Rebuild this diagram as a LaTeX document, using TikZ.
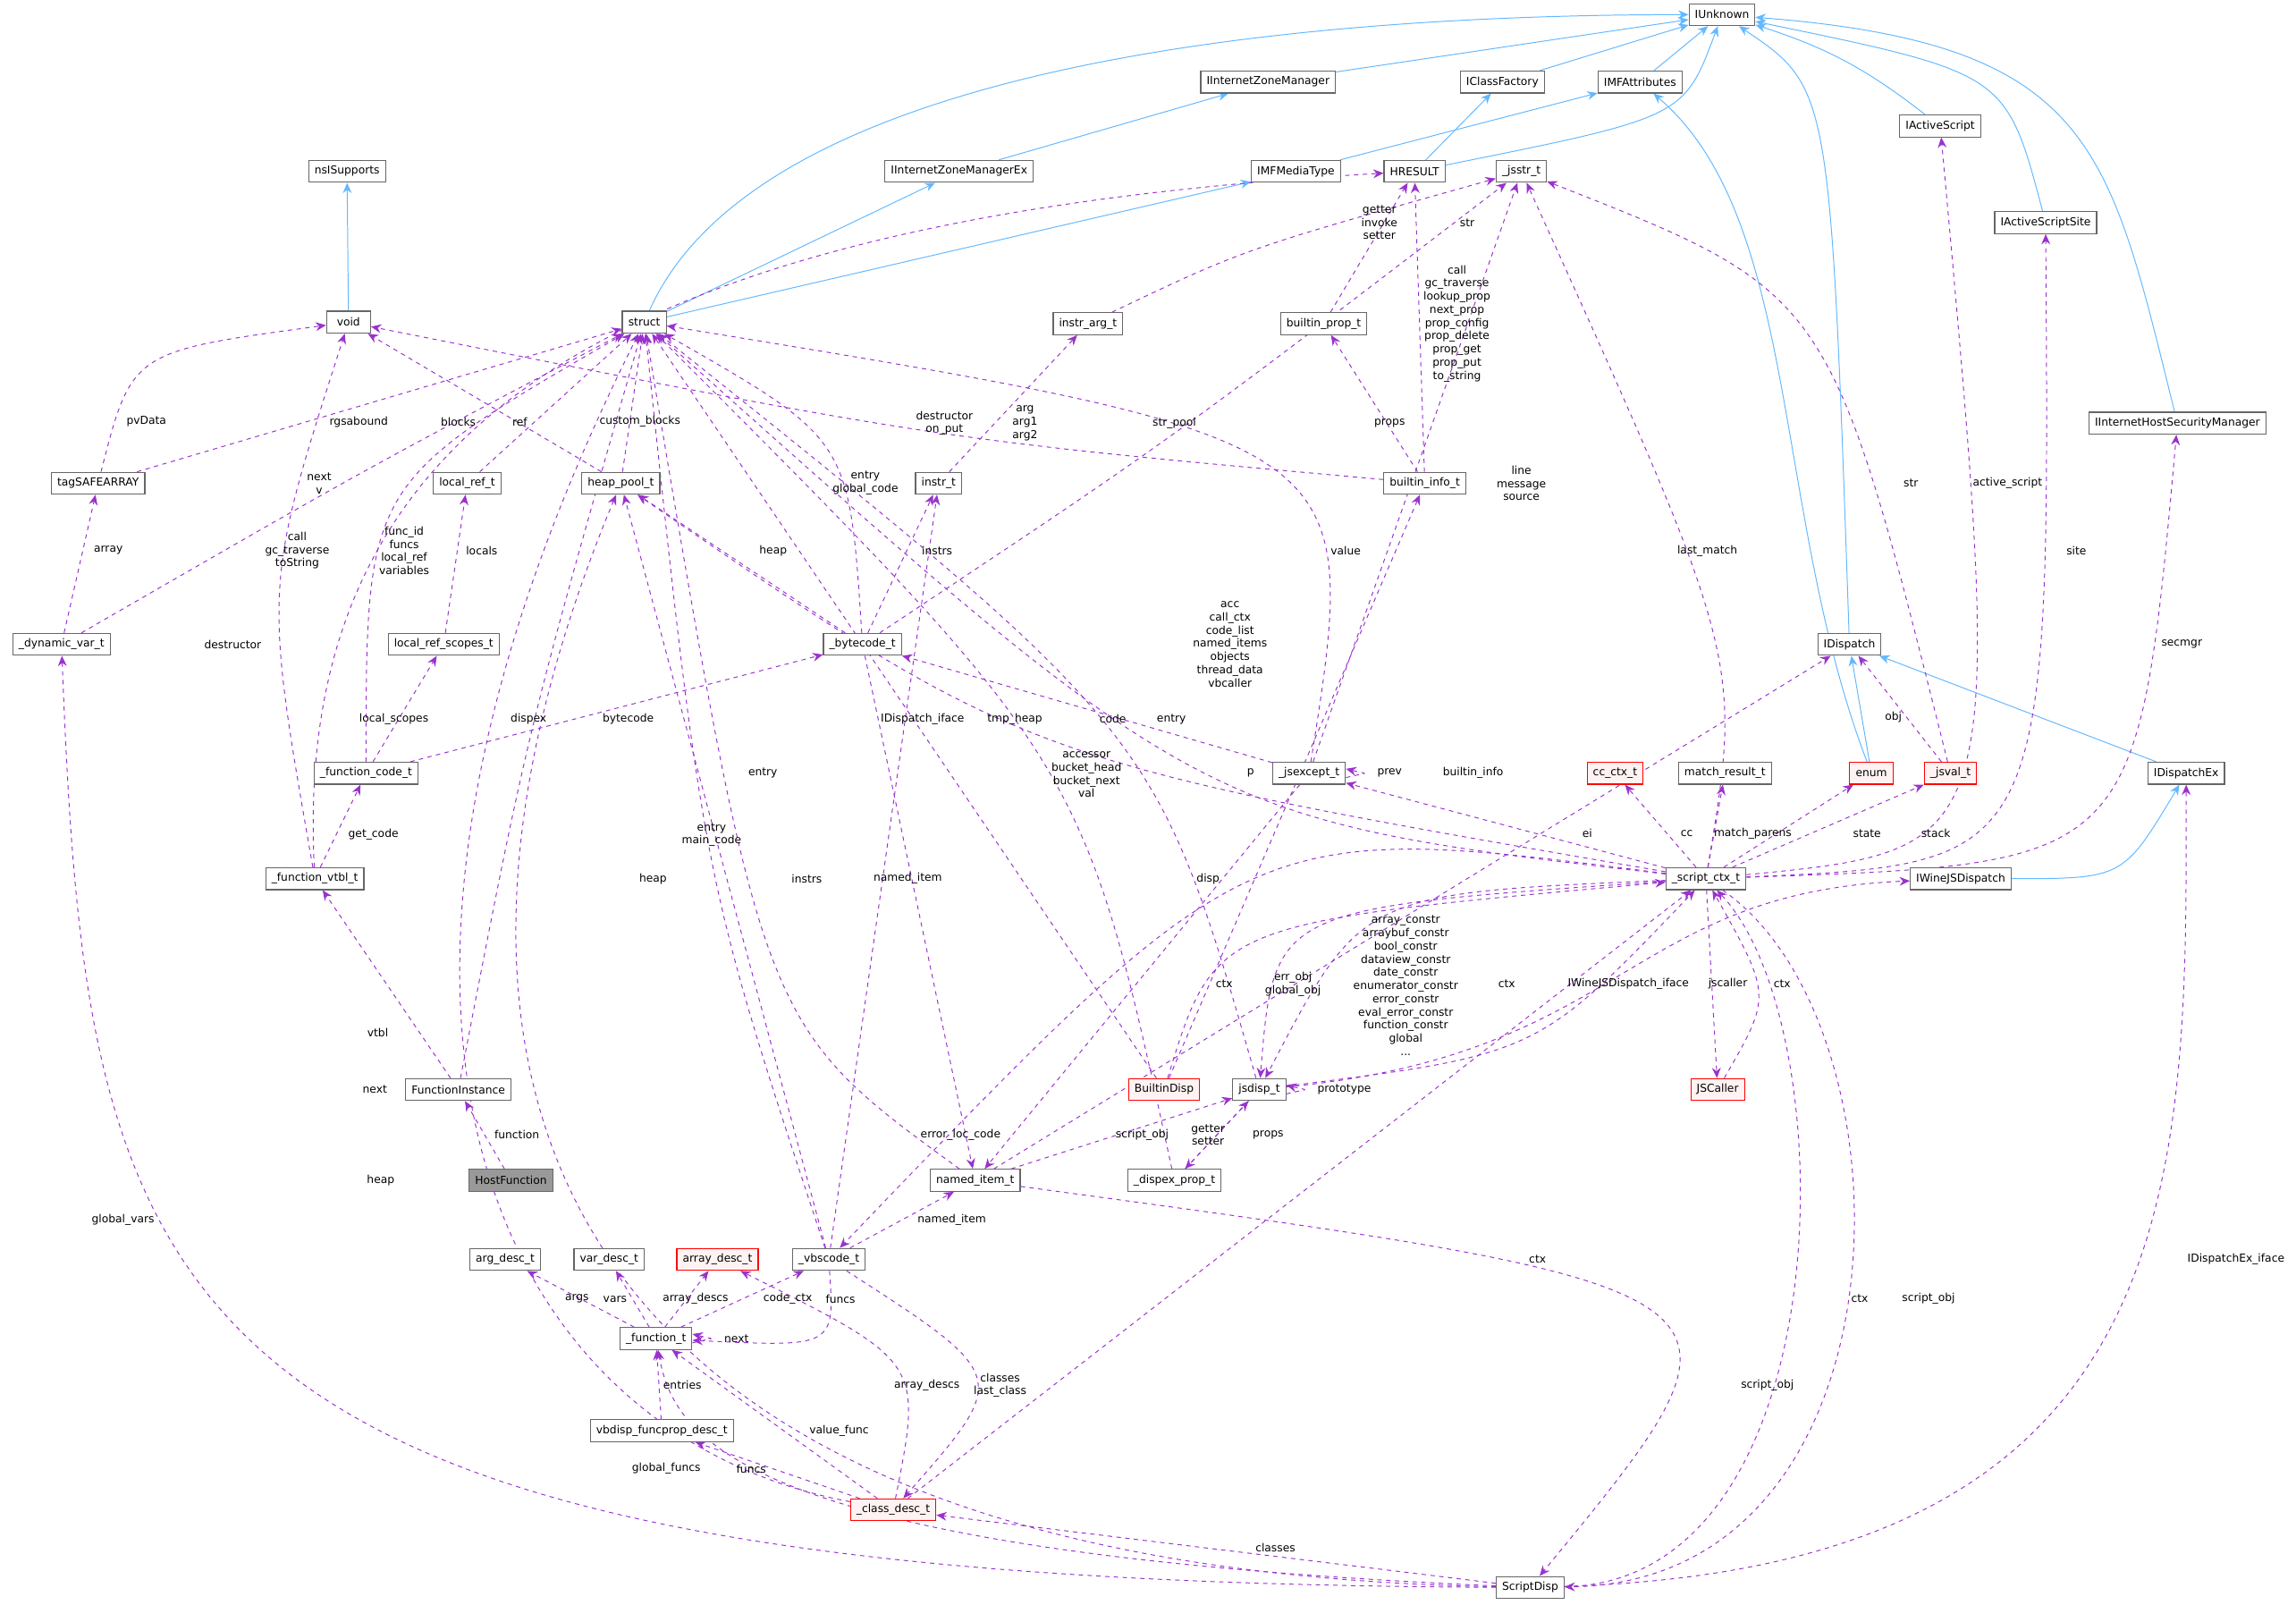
\documentclass[tikz,border=0pt]{standalone}
\usepackage{fontspec}
\setmainfont{DejaVu Sans}
\usetikzlibrary{arrows.meta}
\definecolor{depc}{HTML}{9A32CD}
\definecolor{inhc}{HTML}{63B8FF}
\pgfdeclarelayer{bg}
\pgfsetlayers{bg,main}
\begin{document}
\begin{tikzpicture}[x=1pt,y=-1pt,
  every node/.style={font=\fontsize{7.5}{9}\selectfont},
  box/.style={draw=black!60,line width=0.7pt,fill=white,minimum height=15pt,inner xsep=4pt,inner ysep=1pt,minimum width=30pt},
  redbox/.style={box,draw=red,fill=red!5},
  graybox/.style={box,fill=black!40},
  lbl/.style={align=center,inner sep=0pt},
  dep/.style={draw=depc,dashed,line width=0.6pt,-{Stealth[length=7pt,width=6pt]}},
  inh/.style={draw=inhc,line width=0.6pt,-{Stealth[length=7pt,width=6pt]}}]
\useasboundingbox (0,0) rectangle (1568,1096);
% nodes
\node[box] (iunk) at (1176,10) {IUnknown};
\node[box] (iizm) at (866,56) {IInternetZoneManager};
\node[box] (icf) at (1026,56) {IClassFactory};
\node[box] (imfa) at (1120,56) {IMFAttributes};
\node[box] (ias) at (1325,86) {IActiveScript};
\node[box] (nsis) at (237,117) {nsISupports};
\node[box] (iizmex) at (655,117) {IInternetZoneManagerEx};
\node[box] (imfmt) at (885,117) {IMFMediaType};
\node[box] (hres) at (966,117) {HRESULT};
\node[box] (jsstr) at (1039,117) {\_jsstr\_t};
\node[box] (iass) at (1397,152) {IActiveScriptSite};
\node[box] (void) at (238,220) {void};
\node[box] (struct) at (440,220) {struct};
\node[box] (instrarg) at (743,221) {instr\_arg\_t};
\node[box] (bprop) at (904,221) {builtin\_prop\_t};
\node[box] (ihsm) at (1487,289) {IInternetHostSecurityManager};
\node[box] (tagsa) at (67,330) {tagSAFEARRAY};
\node[box] (localref) at (319,330) {local\_ref\_t};
\node[box] (heap) at (424,330) {heap\_pool\_t};
\node[box] (instr) at (641,330) {instr\_t};
\node[box] (binfo) at (973,330) {builtin\_info\_t};
\node[box] (dynvar) at (42,440) {\_dynamic\_var\_t};
\node[box] (lrs) at (303,440) {local\_ref\_scopes\_t};
\node[box] (bytecode) at (589,440) {\_bytecode\_t};
\node[box] (idisp) at (1263,440) {IDispatch};
\node[box] (funccode) at (250,528) {\_function\_code\_t};
\node[box] (jsexc) at (894,528) {\_jsexcept\_t};
\node[redbox] (cc) at (1103,528) {cc\_ctx\_t};
\node[box] (match) at (1178,528) {match\_result\_t};
\node[redbox] (enum) at (1278,528) {enum};
\node[redbox] (jsval) at (1332,528) {\_jsval\_t};
\node[box] (idispex) at (1493,528) {IDispatchEx};
\node[box] (fvtbl) at (215,600) {\_function\_vtbl\_t};
\node[box] (scx) at (1165,600) {\_script\_ctx\_t};
\node[box] (iwjsd) at (1339,600) {IWineJSDispatch};
\node[box] (fi) at (313,744) {FunctionInstance};
\node[redbox] (bdisp) at (795,744) {BuiltinDisp};
\node[box] (jsdisp) at (860,744) {jsdisp\_t};
\node[redbox] (jscaller) at (1173,744) {JSCaller};
\node[graybox] (hf) at (349,806) {HostFunction};
\node[box] (named) at (666,806) {named\_item\_t};
\node[box] (dispex) at (802,806) {\_dispex\_prop\_t};
\node[box] (argdesc) at (345,860) {arg\_desc\_t};
\node[box] (vardesc) at (416,860) {var\_desc\_t};
\node[redbox] (arrdesc) at (490,860) {array\_desc\_t};
\node[box] (vbscode) at (566,860) {\_vbscode\_t};
\node[box] (func) at (448,914) {\_function\_t};
\node[box] (vbdfp) at (452,977) {vbdisp\_funcprop\_desc\_t};
\node[redbox] (classdesc) at (610,1031) {\_class\_desc\_t};
\node[box] (sdisp) at (1045,1084) {ScriptDisp};
% labels
\node[lbl] (l1) at (100,288) {pvData};
\node[lbl] (l2) at (245,288) {rgsabound};
\node[lbl] (l3) at (74,376) {array};
\node[lbl] (l4) at (218,330) {next\\v};
\node[lbl] (l5) at (313,288) {blocks};
\node[lbl] (l6) at (437,288) {custom\_blocks};
\node[lbl] (l7) at (355,288) {ref};
\node[lbl] (l8) at (276,376) {func\_id\\funcs\\local\_ref\\variables};
\node[lbl] (l9) at (269,491) {local\_scopes};
\node[lbl] (l10) at (429,491) {bytecode};
\node[lbl] (l11) at (329,376) {locals};
\node[lbl] (l12) at (159,440) {destructor};
\node[lbl] (l13) at (203,376) {call\\gc\_traverse\\toString};
\node[lbl] (l14) at (255,570) {get\_code};
\node[lbl] (l15) at (258,705) {vtbl};
\node[lbl] (l16) at (361,491) {dispex};
\node[lbl] (l17) at (353,775) {function};
\node[lbl] (l18) at (528,376) {heap};
\node[lbl] (l19) at (640,376) {instrs};
\node[lbl] (l20) at (591,330) {entry\\global\_code};
\node[lbl] (l21) at (802,289) {str\_pool};
\node[lbl] (l22) at (620,600) {named\_item};
\node[lbl] (l23) at (700,289) {arg\\arg1\\arg2};
\node[lbl] (l24) at (1002,152) {str};
\node[lbl] (l25) at (645,289) {destructor\\on\_put};
\node[lbl] (l26) at (949,289) {props};
\node[lbl] (l27) at (995,221) {call\\gc\_traverse\\lookup\_prop\\next\_prop\\prop\_config\\prop\_delete\\prop\_get\\prop\_put\\to\_string};
\node[lbl] (l28) at (942,152) {getter\\invoke\\setter};
\node[lbl] (l29) at (1039,330) {line\\message\\source};
\node[lbl] (l30) at (919,376) {value};
\node[lbl] (l31) at (760,491) {code};
\node[lbl] (l32) at (949,528) {prev};
\node[lbl] (l33) at (1084,569) {ei};
\node[lbl] (l34) at (1152,569) {cc};
\node[lbl] (l35) at (1197,569) {match\_parens};
\node[lbl] (l36) at (1275,569) {state};
\node[lbl] (l37) at (1322,569) {stack};
\node[lbl] (l38) at (1166,376) {last\_match};
\node[lbl] (l39) at (1371,330) {active\_script};
\node[lbl] (l40) at (1418,376) {site};
\node[lbl] (l41) at (1490,440) {secmgr};
\node[lbl] (l42) at (1293,490) {obj};
\node[lbl] (l43) at (1305,330) {str};
\node[lbl] (l44) at (840,440) {acc\\call\_ctx\\code\_list\\named\_items\\objects\\thread\_data\\vbcaller};
\node[lbl] (l45) at (693,491) {tmp\_heap};
\node[lbl] (l46) at (960,673) {array\_constr\\arraybuf\_constr\\bool\_constr\\dataview\_constr\\date\_constr\\enumerator\_constr\\error\_constr\\eval\_error\_constr\\function\_constr\\global\\...};
\node[lbl] (l47) at (883,672) {err\_obj\\global\_obj};
\node[lbl] (l48) at (836,672) {ctx};
\node[lbl] (l49) at (1029,672) {ctx};
\node[lbl] (l50) at (1112,672) {IWineJSDispatch\_iface};
\node[lbl] (l51) at (1180,672) {jscaller};
\node[lbl] (l52) at (1217,672) {ctx};
\node[lbl] (l53) at (918,744) {prototype};
\node[lbl] (l54) at (780,775) {script\_obj};
\node[lbl] (l55) at (825,775) {getter\\setter};
\node[lbl] (l56) at (866,775) {props};
\node[lbl] (l57) at (1207,946) {script\_obj};
\node[lbl] (l58) at (825,600) {disp};
\node[lbl] (l59) at (521,528) {entry};
\node[lbl] (l60) at (1006,528) {builtin\_info};
\node[lbl] (l61) at (630,491) {IDispatch\_iface};
\node[lbl] (l62) at (800,491) {entry};
\node[lbl] (l63) at (742,529) {accessor\\bucket\_head\\bucket\_next\\val};
\node[lbl] (l64) at (854,528) {p};
\node[lbl] (l65) at (656,775) {error\_loc\_code};
\node[lbl] (l66) at (446,600) {heap};
\node[lbl] (l67) at (551,600) {instrs};
\node[lbl] (l68) at (486,570) {entry\\main\_code};
\node[lbl] (l69) at (650,833) {named\_item};
\node[lbl] (l70) at (683,946) {classes\\last\_class};
\node[lbl] (l71) at (574,887) {funcs};
\node[lbl] (l72) at (394,887) {args};
\node[lbl] (l73) at (420,887) {vars};
\node[lbl] (l74) at (475,887) {array\_descs};
\node[lbl] (l75) at (538,887) {code\_ctx};
\node[lbl] (l76) at (503,914) {next};
\node[lbl] (l77) at (466,946) {entries};
\node[lbl] (l78) at (573,977) {value\_func};
\node[lbl] (l79) at (513,1003) {funcs};
\node[lbl] (l80) at (633,946) {array\_descs};
\node[lbl] (l81) at (1050,860) {ctx};
\node[lbl] (l82) at (256,744) {next};
\node[lbl] (l83) at (871,1057) {classes};
\node[lbl] (l84) at (455,1003) {global\_funcs};
\node[lbl] (l85) at (84,833) {global\_vars};
\node[lbl] (l86) at (260,806) {heap};
\node[lbl] (l87) at (1270,887) {ctx};
\node[lbl] (l88) at (1317,887) {script\_obj};
\node[lbl] (l89) at (1527,860) {IDispatchEx\_iface};
\begin{pgfonlayer}{bg}
% inheritance
\draw[inh] (iizm) -- (iunk);
\draw[inh] (icf) -- (iunk);
\draw[inh] (imfa) -- (iunk);
\draw[inh] (ias) to[bend right=10] (iunk);
\draw[inh] (hres) .. controls (1150,80) .. (iunk);
\draw[inh] (idisp) .. controls (1250,60) .. (iunk);
\draw[inh] (iass) .. controls (1370,50) .. (iunk);
\draw[inh] (ihsm) .. controls (1440,100) and (1430,30) .. (iunk);
\draw[inh] (struct) .. controls (520,40) and (900,10) .. (iunk);
\draw[inh] (iizmex) -- (iizm);
\draw[inh] (struct) -- (iizmex);
\draw[inh] (hres) -- (icf);
\draw[inh] (imfmt) -- (imfa);
\draw[inh] (struct) -- (imfmt);
\draw[inh] (void) -- (nsis);
\draw[inh] (enum) .. controls (1210,350) and (1230,150) .. (imfa);
\draw[inh] (enum) -- (idisp);
\draw[inh] (idispex) -- (idisp);
\draw[inh] (iwjsd) .. controls (1450,600) .. (idispex);
% dependencies
\draw[dep] (tagsa) .. controls (90,240) .. (void);
\draw[dep] (tagsa) -- (struct);
\draw[dep] (dynvar) -- (tagsa);
\draw[dep] (dynvar) .. controls (250,320) .. (struct);
\draw[dep] (heap) -- (void);
\draw[dep] (heap) -- (struct);
\draw[dep] (localref) -- (struct);
\draw[dep] (funccode) .. controls (250,330) .. (struct);
\draw[dep] (funccode) -- (lrs);
\draw[dep] (funccode) -- (bytecode);
\draw[dep] (lrs) -- (localref);
\draw[dep] (fvtbl) .. controls (180,400) .. (void);
\draw[dep] (fvtbl) .. controls (200,300) and (400,150) .. (hres);
\draw[dep] (fvtbl) -- (funccode);
\draw[dep] (fi) -- (fvtbl);
\draw[dep] (fi) .. controls (360,500) .. (struct);
\draw[dep] (hf) -- (fi);
\draw[dep] (bytecode) -- (heap);
\draw[dep] (bytecode) -- (instr);
\draw[dep] (bytecode) .. controls (580,300) .. (struct);
\draw[dep] (bytecode) .. controls (800,300) .. (jsstr);
\draw[dep] (bytecode) -- (named);
\draw[dep] (instr) -- (instrarg);
\draw[dep] (instrarg) .. controls (850,170) .. (jsstr);
\draw[dep] (binfo) .. controls (640,300) .. (void);
\draw[dep] (binfo) -- (bprop);
\draw[dep] (binfo) -- (hres);
\draw[dep] (bprop) -- (hres);
\draw[dep] (jsexc) -- (jsstr);
\draw[dep] (jsexc) .. controls (930,300) .. (struct);
\draw[dep] (jsexc) -- (bytecode);
\draw[dep] ([yshift=-3pt]jsexc.east) .. controls +(16,-4) and +(16,4) .. ([yshift=3pt]jsexc.east);
\draw[dep] (scx) -- (jsexc);
\draw[dep] (scx) -- (cc);
\draw[dep] (scx) -- (match);
\draw[dep] (scx) -- (enum);
\draw[dep] (scx) -- (jsval);
\draw[dep] (scx) .. controls (1190,450) .. (jsstr);
\draw[dep] (scx) .. controls (1370,580) .. (ias);
\draw[dep] (scx) .. controls (1400,590) .. (iass);
\draw[dep] (scx) .. controls (1460,590) .. (ihsm);
\draw[dep] (jsval) -- (idisp);
\draw[dep] (jsval) .. controls (1250,200) .. (jsstr);
\draw[dep] (scx) .. controls (820,560) .. (struct);
\draw[dep] (scx) .. controls (700,520) .. (heap);
\draw[dep] (scx) .. controls (930,610) .. (jsdisp);
\draw[dep] (scx) .. controls (870,620) .. (jsdisp);
\draw[dep] (bdisp) .. controls (830,630) .. (scx);
\draw[dep] (jsdisp) .. controls (1050,720) .. (scx);
\draw[dep] (jsdisp) .. controls (1110,720) and (1110,610) .. (iwjsd);
\draw[dep] (scx) -- (jscaller);
\draw[dep] (jscaller) .. controls (1210,680) .. (scx);
\draw[dep] ([yshift=-3pt]jsdisp.east) .. controls +(16,-4) and +(16,4) .. ([yshift=3pt]jsdisp.east);
\draw[dep] (named) -- (jsdisp);
\draw[dep] (dispex) -- (jsdisp);
\draw[dep] (jsdisp) -- (dispex);
\draw[dep] (named) .. controls (1213,880) .. (sdisp);
\draw[dep] (named) -- (idisp);
\draw[dep] (named) .. controls (520,700) .. (struct);
\draw[dep] (bdisp) -- (binfo);
\draw[dep] (bdisp) -- (struct);
\draw[dep] (jsdisp) .. controls (790,500) .. (struct);
\draw[dep] (dispex) .. controls (740,520) .. (struct);
\draw[dep] (scx) .. controls (854,560) .. (vbscode);
\draw[dep] (jsexc) -- (named);
\draw[dep] (vbscode) -- (heap);
\draw[dep] (vbscode) -- (instr);
\draw[dep] (vbscode) .. controls (480,600) .. (struct);
\draw[dep] (vbscode) -- (named);
\draw[dep] (vbscode) .. controls (690,940) .. (classdesc);
\draw[dep] (vbscode) .. controls (570,920) .. (func);
\draw[dep] (func) -- (argdesc);
\draw[dep] (func) -- (vardesc);
\draw[dep] (func) -- (arrdesc);
\draw[dep] (func) -- (vbscode);
\draw[dep] ([yshift=-3pt]func.east) .. controls +(16,-4) and +(16,4) .. ([yshift=3pt]func.east);
\draw[dep] (vbdfp) -- (func);
\draw[dep] (classdesc) -- (func);
\draw[dep] (classdesc) -- (vbdfp);
\draw[dep] (classdesc) .. controls (630,930) .. (arrdesc);
\draw[dep] (classdesc) -- (scx);
\draw[dep] (classdesc) .. controls (340,980) and (200,700) .. (struct);
\draw[dep] (sdisp) -- (classdesc);
\draw[dep] (sdisp) .. controls (500,1060) and (460,980) .. (func);
\draw[dep] (sdisp) .. controls (100,1080) and (60,900) .. (dynvar);
\draw[dep] (sdisp) .. controls (330,1070) and (270,700) .. (heap);
\draw[dep] (sdisp) .. controls (1260,1080) and (1260,700) .. (scx);
\draw[dep] (scx) .. controls (1310,700) and (1310,1080) .. (sdisp);
\draw[dep] (sdisp) .. controls (1500,1070) and (1493,800) .. (idispex);
\end{pgfonlayer}
\end{tikzpicture}
\end{document}
